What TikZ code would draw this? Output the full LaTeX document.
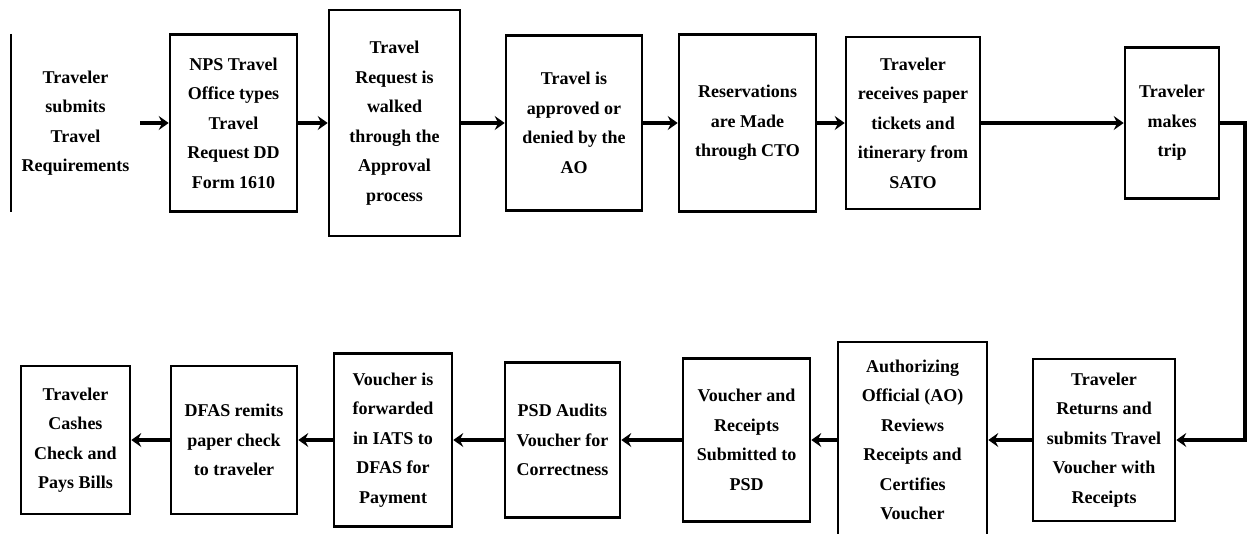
\documentclass[tikz,border=0pt]{standalone}
\usepackage{fontspec}
\setmainfont{Liberation Serif}
\usetikzlibrary{arrows.meta}
\tikzset{
  stepbox/.style={draw=black, line width=2.6pt, inner sep=0pt, align=center,
    font=\fontsize{18}{29.5}\selectfont\bfseries},
  nobox/.style={inner sep=0pt, align=center, font=\fontsize{18}{29.5}\selectfont\bfseries},
  flow/.style={line width=3.4pt, -{Stealth[length=10pt,width=14pt,inset=3.5pt]}}
}
\begin{document}
\begin{tikzpicture}[x=1pt,y=-1pt]
\clip (0,0) rectangle (1249,533);
\fill[white] (0,0) rectangle (1249,533);
% top row
\node[nobox, minimum width=129pt, minimum height=178pt] (b1) at (75.5,123) {Traveler\\submits\\Travel\\Requirements};
\draw[line width=2.6pt] (b1.north west) -- (b1.south west);
\node[stepbox, minimum width=127pt, minimum height=177pt] (b2) at (233.5,123) {NPS Travel\\Office types\\Travel\\Request DD\\Form 1610};
\node[stepbox, minimum width=131pt, minimum height=226pt] (b3) at (394.5,123) {Travel\\Request is\\walked\\through the\\Approval\\process};
\node[stepbox, minimum width=136pt, minimum height=175pt] (b4) at (574,123) {Travel is\\approved or\\denied by the\\AO};
\node[stepbox, minimum width=137pt, minimum height=177pt] (b5) at (747.5,123) {Reservations\\are Made\\through CTO};
\node[stepbox, minimum width=134pt, minimum height=172pt] (b6) at (913,123) {Traveler\\receives paper\\tickets and\\itinerary from\\SATO};
\node[stepbox, minimum width=94pt, minimum height=151pt] (b7) at (1172,123) {Traveler\\makes\\trip};
% bottom row
\node[stepbox, minimum width=142pt, minimum height=162pt] (b8) at (1104,440) {Traveler\\Returns and\\submits Travel\\Voucher with\\Receipts};
\node[stepbox, minimum width=149pt, minimum height=196pt] (b9) at (912.5,440) {Authorizing\\Official (AO)\\Reviews\\Receipts and\\Certifies\\Voucher};
\node[stepbox, minimum width=127pt, minimum height=163pt] (b10) at (746.5,440) {Voucher and\\Receipts\\Submitted to\\PSD};
\node[stepbox, minimum width=115pt, minimum height=155pt] (b11) at (562.5,440) {PSD Audits\\Voucher for\\Correctness};
\node[stepbox, minimum width=118pt, minimum height=173pt] (b12) at (393,440) {Voucher is\\forwarded\\in IATS to\\DFAS for\\Payment};
\node[stepbox, minimum width=126pt, minimum height=148pt] (b13) at (234,440) {DFAS remits\\paper check\\to traveler};
\node[stepbox, minimum width=109pt, minimum height=148pt] (b14) at (75.5,440) {Traveler\\Cashes\\Check and\\Pays Bills};
% connectors
\draw[flow] (b1.east) -- (b2.west);
\draw[flow] (b2.east) -- (b3.west);
\draw[flow] (b3.east) -- (b4.west);
\draw[flow] (b4.east) -- (b5.west);
\draw[flow] (b5.east) -- (b6.west);
\draw[flow] (b6.east) -- (b7.west);
\coordinate (c1) at (1245,123);
\coordinate (c2) at (1245,440);
\draw[flow] (b7.east) -- (c1) -- (c2) -- (b8.east);
\draw[flow] (b8.west) -- (b9.east);
\draw[flow] (b9.west) -- (b10.east);
\draw[flow] (b10.west) -- (b11.east);
\draw[flow] (b11.west) -- (b12.east);
\draw[flow] (b12.west) -- (b13.east);
\draw[flow] (b13.west) -- (b14.east);
\end{tikzpicture}
\end{document}
